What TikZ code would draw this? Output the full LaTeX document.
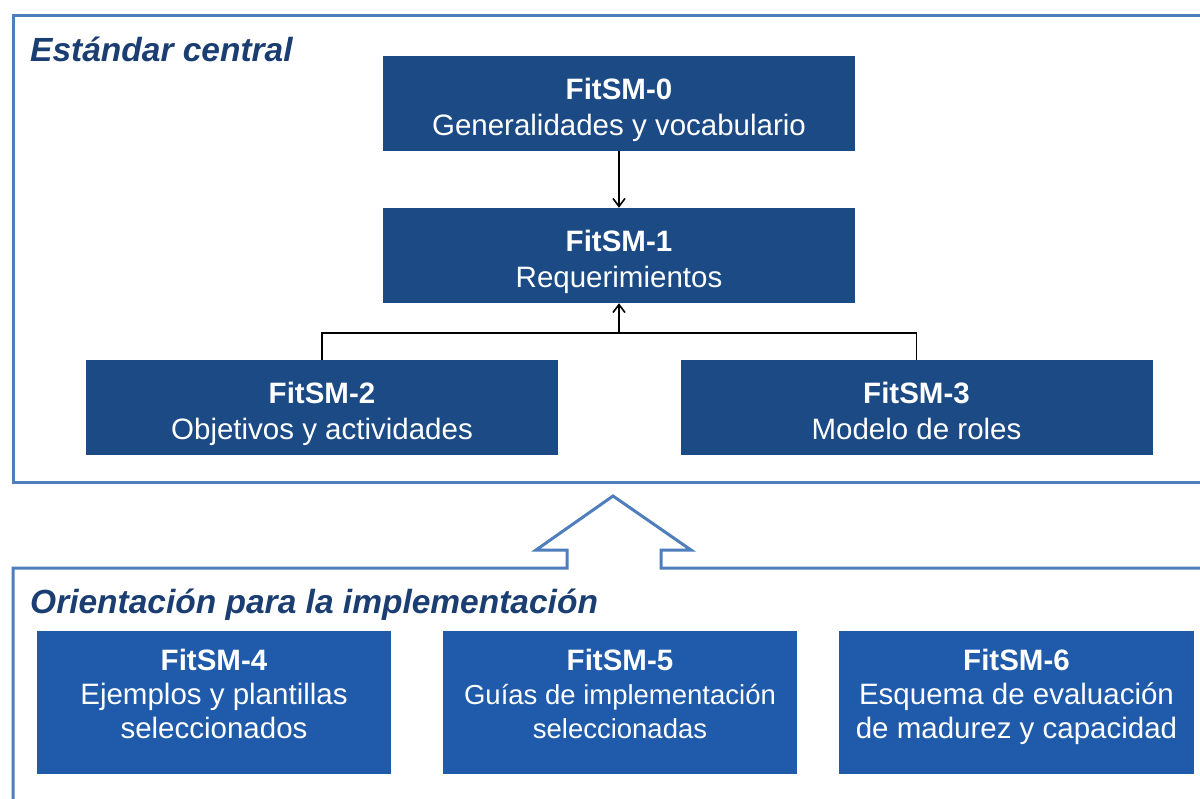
\documentclass[tikz,border=0pt]{standalone}
\usepackage{fontspec}
\setmainfont{Liberation Sans}
\usetikzlibrary{arrows.meta}
\definecolor{framecol}{HTML}{4F7EBC}
\definecolor{topcol}{HTML}{1B4A85}
\definecolor{botcol}{HTML}{1F5BAA}
\definecolor{titlecol}{HTML}{1B3E72}
\newcommand{\fitbox}[4]{\parbox[c][#2][t]{#1}{\centering\rule{0pt}{#3}#4}}
\begin{document}
\begin{tikzpicture}[x=1pt,y=-1pt,
  frame/.style={draw=framecol,line width=3pt,line join=miter},
  titletext/.style={anchor=base west,inner sep=0,text=titlecol,font=\fontsize{33.5}{40}\selectfont\bfseries\itshape},
  topbox/.style={fill=topcol,text=white,inner sep=0,minimum width=472pt,minimum height=95pt,font=\fontsize{29.5}{36}\selectfont},
  botbox/.style={fill=botcol,text=white,inner sep=0,minimum width=354pt,minimum height=143pt,font=\fontsize{29.5}{34}\selectfont},
  conn/.style={draw=black,line width=1.6pt},
  tip/.style={-{Straight Barb[length=8pt,width=12pt]}}
]
\useasboundingbox (0,0) rectangle (1200,799);
\clip (0,0) rectangle (1200,799);
\fill[white] (0,0) rectangle (1200,799);

% frames
\draw[frame] (1215,16) -- (13,16) -- (13,483) -- (1215,483);
\draw[frame] (13,815) -- (13,568) -- (567,568) -- (567,550) -- (536,550) -- (613,496)
  -- (691,550) -- (661,550) -- (661,568) -- (1215,568);

% titles
\node[titletext] (t1) at (30,62) {Estándar central};
\node[titletext] (t2) at (30,613) {Orientación para la implementación};

% core standard boxes
\node[topbox] (f0) at (619,103.5) {\fitbox{472pt}{95pt}{44pt}{\textbf{FitSM-0}\\Generalidades y vocabulario}};
\node[topbox] (f1) at (619,255.5) {\fitbox{472pt}{95pt}{44pt}{\textbf{FitSM-1}\\Requerimientos}};
\node[topbox] (f2) at (322,407.5) {\fitbox{472pt}{95pt}{44pt}{\textbf{FitSM-2}\\Objetivos y actividades}};
\node[topbox] (f3) at (916.5,407.5) {\fitbox{472pt}{95pt}{44pt}{\textbf{FitSM-3}\\Modelo de roles}};

% implementation boxes
\node[botbox] (f4) at (214,702.5) {\fitbox{354pt}{143pt}{39pt}{\textbf{FitSM-4}\\Ejemplos y plantillas\\seleccionados}};
\node[botbox] (f5) at (620,702.5) {\fitbox{354pt}{143pt}{39pt}{\textbf{FitSM-5}\\\fontsize{27.5}{34}\selectfont Guías de implementación\\seleccionadas}};
\node[botbox] (f6) at (1016.5,702.5) {\fitbox{355pt}{143pt}{39pt}{\textbf{FitSM-6}\\Esquema de evaluación\\de madurez y capacidad}};

% connectors
\coordinate (j) at (619,333);
\draw[conn,tip] (f0) -- (f1);
\draw[conn] (f2.north) |- (j) -| (f3.north);
\draw[conn,tip] (j) -- (f1.south);
\end{tikzpicture}
\end{document}
